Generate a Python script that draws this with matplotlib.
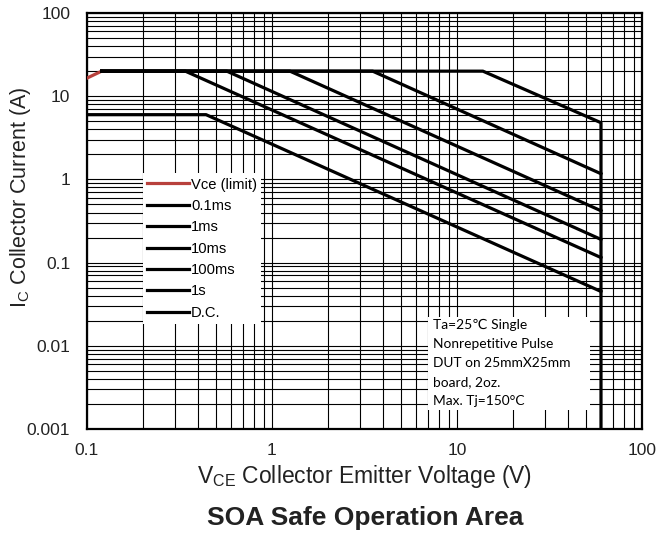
import matplotlib.pyplot as plt
from matplotlib.patches import Rectangle

plt.rcParams['font.family'] = ['Liberation Sans', 'DejaVu Sans']

# SOA boundary curves (V in volts, I in amps)
vce_limit_v = [0.1, 0.12]
vce_limit_i = [16.5, 20]

pulse_01ms_v = [0.12, 13.8, 60, 60]
pulse_01ms_i = [20, 20, 4.8, 0.001]

pulse_1ms_v = [0.12, 3.5, 60]
pulse_1ms_i = [20, 20, 1.17]

pulse_10ms_v = [0.12, 1.25, 60]
pulse_10ms_i = [20, 20, 0.42]

pulse_100ms_v = [0.12, 0.57, 60]
pulse_100ms_i = [20, 20, 0.19]

pulse_1s_v = [0.12, 0.34, 60]
pulse_1s_i = [20, 20, 0.115]

dc_v = [0.1, 0.44, 60]
dc_i = [6.0, 6.0, 0.045]

x_ticks = [0.1, 1, 10, 100]
x_labels = ['0.1', '1', '10', '100']
y_ticks = [0.001, 0.01, 0.1, 1, 10, 100]
y_labels = ['0.001', '0.01', '0.1', '1', '10', '100']

note = ("Ta=25\u2103 Single\nNonrepetitive Pulse\nDUT on 25mmX25mm\n"
        "board, 2oz.\nMax. Tj=150\u00b0C")

fig = plt.figure(figsize=(6.56, 5.35), dpi=100)
ax = fig.add_axes([0.1326, 0.1981, 0.8461, 0.7776])

lw = 2.3
ax.plot(vce_limit_v, vce_limit_i, color='#B8413C', lw=lw, label='Vce (limit)', zorder=5)
ax.plot(pulse_01ms_v, pulse_01ms_i, color='black', lw=lw, label='0.1ms', zorder=5)
ax.plot(pulse_1ms_v, pulse_1ms_i, color='black', lw=lw, label='1ms', zorder=5)
ax.plot(pulse_10ms_v, pulse_10ms_i, color='black', lw=lw, label='10ms', zorder=5)
ax.plot(pulse_100ms_v, pulse_100ms_i, color='black', lw=lw, label='100ms', zorder=5)
ax.plot(pulse_1s_v, pulse_1s_i, color='black', lw=lw, label='1s', zorder=5)
ax.plot(dc_v, dc_i, color='black', lw=lw, label='D.C.', zorder=5)

ax.set_xscale('log')
ax.set_yscale('log')
ax.set_xlim(0.1, 100)
ax.set_ylim(0.001, 100)
ax.set_xticks(x_ticks, x_labels)
ax.set_yticks(y_ticks, y_labels)
ax.tick_params(which='both', length=0, labelsize=12.5, colors='#222222')
ax.tick_params(axis='x', pad=10)
ax.tick_params(axis='y', pad=12)
ax.grid(which='both', color='black', lw=0.8)
ax.set_axisbelow(True)
for s in ax.spines.values():
    s.set_linewidth(1.6)

ax.set_xlabel(r'V$_\mathregular{CE}$ Collector Emitter Voltage (V)', fontsize=16.5,
              color='#222222', labelpad=4)
ax.set_ylabel(r'I$_\mathregular{C}$ Collector Current (A)', fontsize=15.5,
              color='#222222')
ax.yaxis.set_label_coords(-0.098, 0.558)

leg = ax.legend(loc='upper left', bbox_to_anchor=(0.101, 0.615), borderaxespad=0,
                fontsize=10.6, handlelength=2.8, handletextpad=0.15, labelspacing=0.5,
                borderpad=0.3, fancybox=False, framealpha=1, edgecolor='none')
leg.set_zorder(4)

ax.add_patch(Rectangle((0.614, 0.046), 0.292, 0.223, transform=ax.transAxes,
                       facecolor='white', edgecolor='none', zorder=3))
ax.text(0.624, 0.264, note, transform=ax.transAxes, ha='left', va='top',
        fontsize=9.9, family=['Lato', 'DejaVu Sans'], linespacing=1.68, zorder=4)

fig.text(0.556, 0.032, 'SOA Safe Operation Area', ha='center', va='center',
         fontsize=19, fontweight='bold', color='#222222')

fig.savefig('out.png', dpi=100)
